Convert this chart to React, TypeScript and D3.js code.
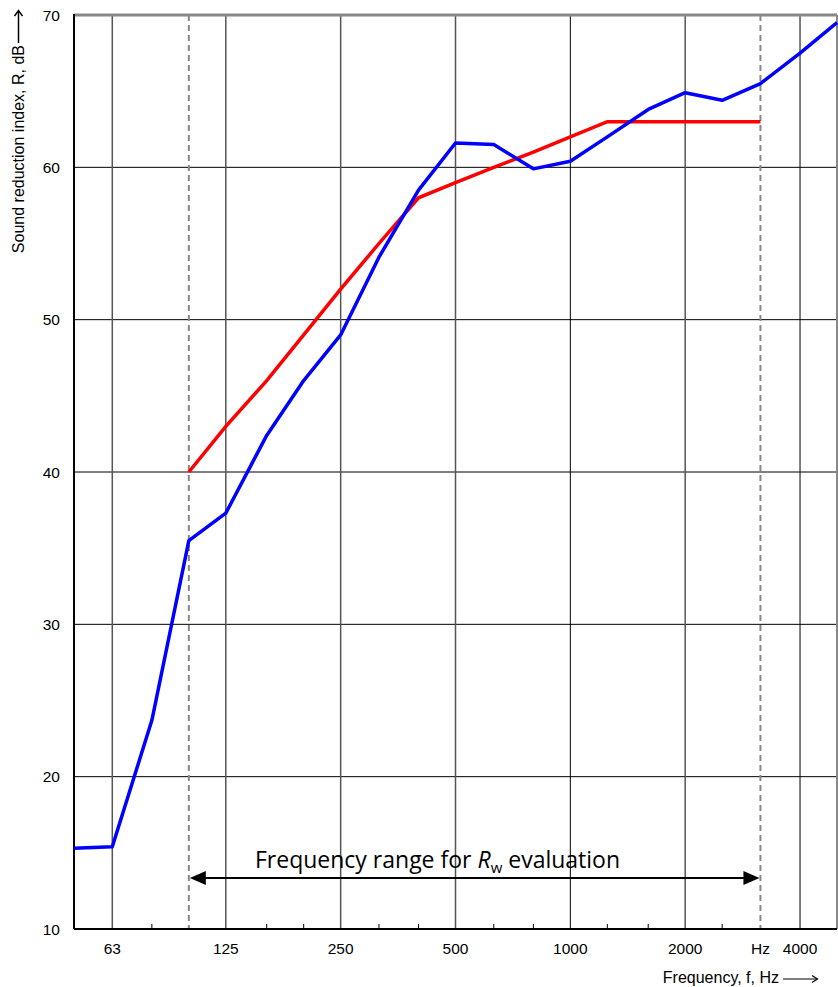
import React from "react";
import * as d3 from "d3";

const bands = [50, 63, 80, 100, 125, 160, 200, 250, 315, 400, 500, 630, 800, 1000, 1250, 1600, 2000, 2500, 3150, 4000, 5000];
const measured = [15.3, 15.4, 23.7, 35.5, 37.3, 42.4, 46.0, 49.0, 54.1, 58.5, 61.6, 61.5, 59.9, 60.4, 62.0, 63.8, 64.9, 64.4, 65.5, 67.5, 69.5];
const refBands = [100, 125, 160, 200, 250, 315, 400, 500, 630, 800, 1000, 1250, 1600, 2000, 2500, 3150];
const refCurve = [40, 43, 46, 49, 52, 55, 58, 59, 60, 61, 62, 63, 63, 63, 63, 63];
const xTickLabels = [
  { f: 63, label: "63" },
  { f: 125, label: "125" },
  { f: 250, label: "250" },
  { f: 500, label: "500" },
  { f: 1000, label: "1000" },
  { f: 2000, label: "2000" },
  { f: 3150, label: "Hz" },
  { f: 4000, label: "4000" },
];
const majorGrid = [63, 125, 250, 500, 1000, 2000, 4000];
const darkGrid = [1000, 4000];
const minorTicks = [80, 160, 200, 315, 400, 630, 800, 1250, 1600, 2500];
const yTicks = [10, 20, 30, 40, 50, 60, 70];
const rangeBounds = [100, 3150];

export default function App() {
  const W = 838, H = 987;
  const left = 74, right = 837, top = 15, bottom = 929;
  const x = d3.scaleLog().domain([50, 5000]).range([left, right]);
  const y = d3.scaleLinear().domain([10, 70]).range([bottom, top]);
  const line = d3.line<[number, number]>().x(d => x(d[0])).y(d => y(d[1]));
  const measPath = line(bands.map((f, i) => [f, measured[i]] as [number, number])) || "";
  const refPath = line(refBands.map((f, i) => [f, refCurve[i]] as [number, number])) || "";
  const arrowY = 878;
  const x0 = x(rangeBounds[0]), x1 = x(rangeBounds[1]);
  return (
    <svg width={W} height={H} style={{ position: "absolute", left: 0, top: 0 }} fontFamily="'Liberation Sans', Arial, sans-serif">
      <rect x={0} y={0} width={W} height={H} fill="#fff" />
      {yTicks.slice(1, -1).map(v => (
        <line key={"h" + v} x1={left} x2={right} y1={y(v)} y2={y(v)} stroke="#000" strokeWidth={1} />
      ))}
      {majorGrid.map(f => (
        <line key={"v" + f} x1={x(f)} x2={x(f)} y1={top} y2={bottom} stroke={darkGrid.includes(f) ? "#000" : "#555"} strokeWidth={darkGrid.includes(f) ? 1 : 1.5} />
      ))}
      {minorTicks.map(f => (
        <line key={"m" + f} x1={x(f)} x2={x(f)} y1={bottom} y2={bottom - 5} stroke="#000" strokeWidth={1} />
      ))}
      {rangeBounds.map(f => (
        <line key={"d" + f} x1={x(f)} x2={x(f)} y1={top} y2={bottom} stroke="#888" strokeWidth={2} strokeDasharray="6,4" />
      ))}
      <line x1={left} x2={right} y1={top} y2={top} stroke="#888" strokeWidth={3} />
      <line x1={right} x2={right} y1={top} y2={bottom} stroke="#888" strokeWidth={2} />
      <line x1={left} x2={left} y1={top - 1} y2={bottom} stroke="#000" strokeWidth={2} />
      <line x1={left} x2={right} y1={bottom} y2={bottom} stroke="#000" strokeWidth={2} />
      <path d={refPath} fill="none" stroke="#ff0000" strokeWidth={3.5} />
      <path d={measPath} fill="none" stroke="#0000ff" strokeWidth={3.5} strokeLinejoin="round" />
      {yTicks.map(v => (
        <text key={"yl" + v} x={60} y={y(v) + 5.5} textAnchor="end" fontSize={15.5}>{v}</text>
      ))}
      {xTickLabels.map(t => (
        <text key={"xl" + t.f} x={x(t.f)} y={954} textAnchor="middle" fontSize={15.5}>{t.label}</text>
      ))}
      <text transform="translate(23.5,45) rotate(-90)" textAnchor="end" fontSize={16}>Sound reduction index, R, dB</text>
      <line x1={18.5} x2={18.5} y1={43} y2={11} stroke="#000" strokeWidth={1.5} />
      <path d="M14.5,16 L18.5,10.5 L22.5,16" fill="none" stroke="#000" strokeWidth={1.5} />
      <text x={779} y={983} textAnchor="end" fontSize={16}>Frequency, f, Hz</text>
      <line x1={783} x2={817} y1={979} y2={979} stroke="#000" strokeWidth={1.2} />
      <path d="M812,975.5 L817.5,979 L812,982.5" fill="none" stroke="#000" strokeWidth={1.2} />
      <line x1={x0 + 14} x2={x1 - 14} y1={arrowY} y2={arrowY} stroke="#000" strokeWidth={2} />
      <path d={`M${x0 + 1},${arrowY} L${x0 + 17},${arrowY - 7} L${x0 + 17},${arrowY + 7} Z`} fill="#000" />
      <path d={`M${x1 - 1},${arrowY} L${x1 - 17},${arrowY - 7} L${x1 - 17},${arrowY + 7} Z`} fill="#000" />
      <text x={437.5} y={868} textAnchor="middle" fontSize={23} fontFamily="'Open Sans', sans-serif">
        Frequency range for <tspan fontStyle="italic">R</tspan><tspan fontSize={15} dy={5}>w</tspan><tspan dy={-5}> evaluation</tspan>
      </text>
    </svg>
  );
}
